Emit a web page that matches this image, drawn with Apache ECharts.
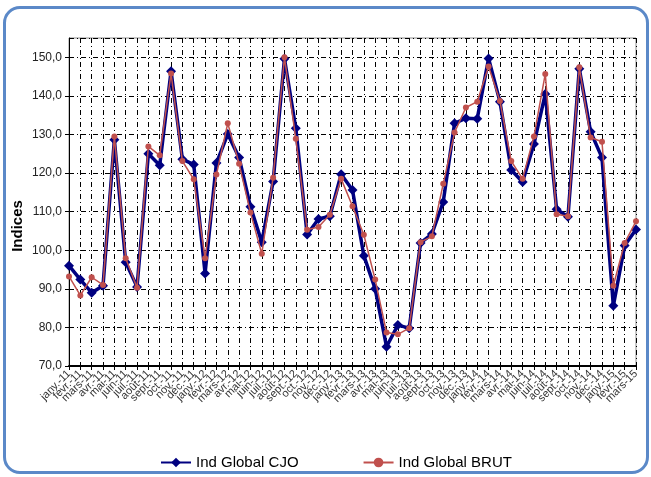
<!DOCTYPE html>
<html>
<head>
<meta charset="utf-8">
<script src="https://cdn.jsdelivr.net/npm/echarts@6/dist/echarts.min.js"></script>
<style>
  html, body { margin: 0; padding: 0; background: #ffffff; }
  #wrap { position: relative; width: 651px; height: 477px; overflow: hidden; }
  #frame { position: absolute; left: 3px; top: 6px; width: 640px; height: 462px;
           border: 3px solid #5b89c8; border-radius: 17px; }
  #chart { position: absolute; left: 0; top: 0; width: 651px; height: 477px; }
</style>
</head>
<body>
<div id="wrap">
  <div id="frame"></div>
  <div id="chart"></div>
</div>
<script>
var categories = [
  'janv.-11','févr.-11','mars-11','avr.-11','mai-11','juin-11','juil.-11','août-11','sept.-11','oct.-11','nov.-11','déc.-11',
  'janv.-12','févr.-12','mars-12','avr.-12','mai-12','juin-12','juil.-12','août-12','sept.-12','oct.-12','nov.-12','déc.-12',
  'janv.-13','févr.-13','mars-13','avr.-13','mai-13','juin-13','juil.-13','août-13','sept.-13','oct.-13','nov.-13','déc.-13',
  'janv.-14','févr.-14','mars-14','avr.-14','mai-14','juin-14','juil.-14','août-14','sept.-14','oct.-14','nov.-14','déc.-14',
  'janv.-15','févr.-15','mars-15'
];
var indGlobalCJO = [
  96.0, 92.4, 89.0, 90.8, 128.6, 96.9, 90.5, 125.0, 122.0, 146.4, 123.6, 122.2,
  94.0, 122.6, 130.1, 124.0, 111.3, 102.1, 117.8, 149.6, 131.6, 104.1, 108.1, 108.8,
  119.7, 115.6, 98.6, 90.0, 75.0, 80.6, 79.8, 101.9, 104.2, 112.5, 132.9, 134.2,
  134.1, 149.7, 138.5, 120.8, 117.7, 127.5, 140.5, 110.6, 108.7, 147.0, 130.7, 124.0,
  85.6, 101.2, 105.4
];
var indGlobalBRUT = [
  93.2, 88.3, 93.0, 91.0, 129.5, 97.9, 90.3, 126.9, 124.6, 145.8, 123.1, 118.4,
  97.9, 119.6, 132.9, 122.4, 109.8, 99.1, 118.8, 150.0, 128.9, 105.3, 106.0, 109.2,
  118.5, 111.4, 104.0, 92.4, 78.7, 78.2, 79.8, 102.1, 103.6, 117.2, 130.5, 137.0,
  138.5, 147.6, 138.7, 123.1, 118.5, 129.5, 145.7, 109.3, 108.8, 147.4, 129.2, 128.1,
  90.8, 101.9, 107.5
];
var seriesNames = ['Ind Global CJO', 'Ind Global BRUT'];
var yAxisTitle = 'Indices';

var FONT = '"Liberation Sans", Arial, sans-serif';
var gridDash = [5, 3, 1, 3];

var chart = echarts.init(document.getElementById('chart'), null, { renderer: 'canvas' });
chart.setOption({
  animation: false,
  backgroundColor: 'transparent',
  textStyle: { fontFamily: FONT },
  grid: {
    left: 69, right: 15, top: 38, bottom: 111,
    show: true, borderColor: '#8c8c8c', borderWidth: 1, backgroundColor: '#ffffff'
  },
  legend: {
    left: 155, top: 450,
    itemWidth: 30, itemHeight: 12, itemGap: 64,
    textStyle: { fontSize: 15, color: '#000', fontFamily: FONT },
    data: seriesNames
  },
  graphic: [{
    type: 'text', x: 18, y: 226, rotation: Math.PI / 2,
    style: { text: yAxisTitle, font: 'bold 15px ' + FONT, fill: '#000',
             align: 'center', verticalAlign: 'middle' }
  }],
  xAxis: [{
    type: 'category', data: categories, boundaryGap: false, position: 'bottom',
    axisLine: { show: true, lineStyle: { color: '#000', width: 2 } },
    axisTick: { show: true, interval: 0, length: 4, lineStyle: { color: '#000' } },
    axisLabel: { interval: 0, rotate: 45, fontSize: 11, color: '#333', margin: 6, fontFamily: FONT },
    splitLine: { show: true, interval: 0, lineStyle: { color: '#000', type: gridDash, width: 1 } }
  }, {
    type: 'category', data: categories, boundaryGap: false, position: 'bottom',
    axisLine: { show: false },
    axisTick: { show: true, inside: true, interval: 0, length: 4, lineStyle: { color: '#000' } },
    axisLabel: { show: false },
    splitLine: { show: false }
  }],
  yAxis: {
    type: 'value', min: 70, max: 155, interval: 10,
    axisLine: { show: true, lineStyle: { color: '#000', width: 1 } },
    axisTick: { show: true, length: 4, lineStyle: { color: '#000' } },
    axisLabel: {
      fontSize: 12, color: '#222', margin: 7, fontFamily: FONT, showMaxLabel: false,
      formatter: function (v) { return v > 150 ? '' : v.toFixed(1).replace('.', ','); }
    },
    splitLine: { show: true, lineStyle: { color: '#000', type: gridDash, width: 1 } }
  },
  series: [{
    name: seriesNames[0], type: 'line', data: indGlobalCJO, xAxisIndex: 0,
    color: '#000080', symbol: 'diamond', symbolSize: 10, showAllSymbol: true,
    lineStyle: { width: 3.5, color: '#000080' },
    itemStyle: { color: '#000080' }, z: 3
  }, {
    name: seriesNames[1], type: 'line', data: indGlobalBRUT, xAxisIndex: 0,
    color: '#c0504d', symbol: 'circle', symbolSize: 6, showAllSymbol: true,
    lineStyle: { width: 1.5, color: '#c0504d' },
    itemStyle: { color: '#c0504d' }, z: 4
  }]
});
</script>
</body>
</html>
